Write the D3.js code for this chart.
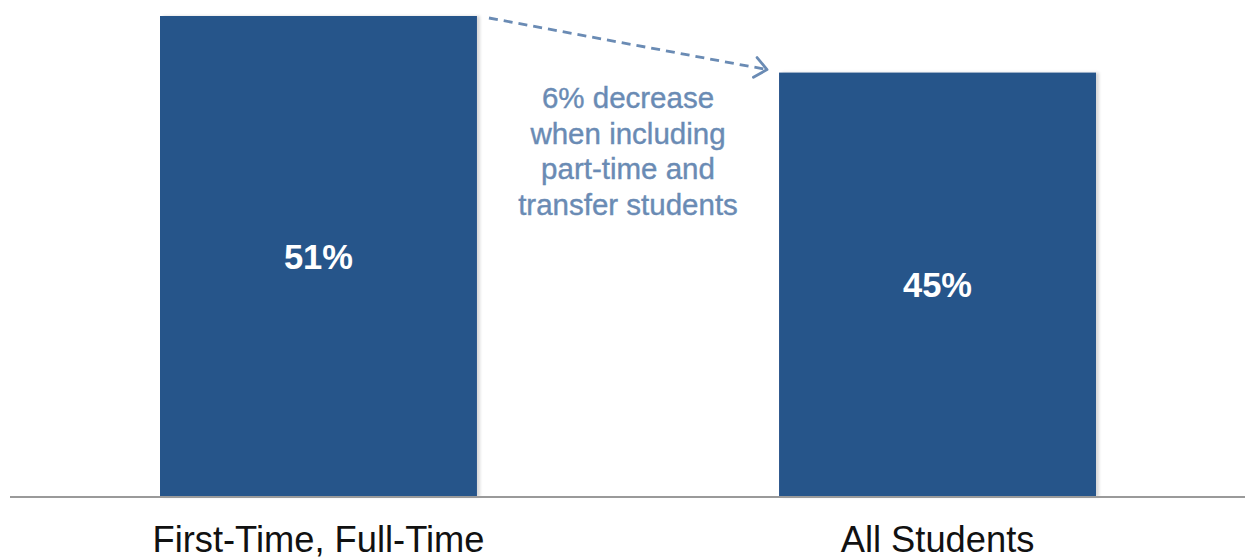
<!DOCTYPE html>
<html>
<head>
<meta charset="utf-8">
<script src="https://cdn.jsdelivr.net/npm/d3@7"></script>
<style>
html,body{margin:0;padding:0;background:#fff;}
svg{display:block;font-family:"Liberation Sans",Arial,sans-serif;}
</style>
</head>
<body>
<svg id="chart" width="1245" height="559"></svg>
<script>
const categories = ["First-Time, Full-Time", "All Students"];
const values = [51, 45];
const valueLabels = ["51%", "45%"];
const annotationLines = ["6% decrease", "when including", "part-time and", "transfer students"];

const svg = d3.select("#chart");
const W = 1245, H = 559;
const baseY = 497, topY = 16;

const x = d3.scaleBand().domain(categories).range([160, 1096]).paddingInner(0.488).paddingOuter(0);
const y = d3.scaleLinear().domain([0, d3.max(values)]).range([baseY, topY]);

const barColor = "#27548a";
const annoColor = "#6a8bb4";

const defs = svg.append("defs");
const f = defs.append("filter").attr("id", "sh").attr("x", "-5%").attr("y", "-5%").attr("width", "115%").attr("height", "110%");
f.append("feDropShadow").attr("dx", 3).attr("dy", 0).attr("stdDeviation", 1.5).attr("flood-color", "#000").attr("flood-opacity", 0.15);

defs.append("marker").attr("id", "arr").attr("viewBox", "0 0 16 24").attr("refX", 14).attr("refY", 12)
  .attr("markerWidth", 16).attr("markerHeight", 24).attr("markerUnits", "userSpaceOnUse").attr("orient", "auto")
  .append("path").attr("d", "M2,2 L14,12 L2,22").attr("fill", "none").attr("stroke", annoColor).attr("stroke-width", 2.8)
  .attr("stroke-linecap", "round").attr("stroke-linejoin", "round");

svg.append("g").selectAll("rect").data(values).join("rect")
  .attr("x", (d, i) => x(categories[i]))
  .attr("y", d => y(d))
  .attr("width", x.bandwidth())
  .attr("height", d => y(0) - y(d))
  .attr("fill", barColor)
  .attr("filter", "url(#sh)");

const axis = d3.axisBottom(x).tickSize(0).tickPadding(29);
const ax = svg.append("g").attr("transform", `translate(0,${baseY})`).call(axis);
ax.select(".domain").attr("d", `M10,0H${W}`).attr("stroke", "#9a9a9a").attr("stroke-width", 2);
ax.selectAll("text").attr("font-size", 36.3).attr("fill", "#111").attr("font-family", "Liberation Sans, Arial, sans-serif").attr("dy", "0.71em");

svg.append("g").selectAll("text").data(values).join("text")
  .attr("x", (d, i) => x(categories[i]) + x.bandwidth() / 2)
  .attr("y", d => (y(d) + y(0)) / 2)
  .attr("dy", "0.36em")
  .attr("text-anchor", "middle")
  .attr("fill", "#fff")
  .attr("font-weight", "bold")
  .attr("font-size", 34.5)
  .text((d, i) => valueLabels[i]);

const x1 = x(categories[0]) + x.bandwidth() + 12, y1 = y(values[0]) + 2;
const x2 = x(categories[1]) - 12, y2 = y(values[1]) - 3;
svg.append("line").attr("x1", x1).attr("y1", y1).attr("x2", x2).attr("y2", y2)
  .attr("stroke", annoColor).attr("stroke-width", 2.8).attr("stroke-dasharray", "9,6")
  .attr("marker-end", "url(#arr)");

const cx = (x(categories[0]) + x.bandwidth() + x(categories[1])) / 2;
svg.append("text").attr("text-anchor", "middle").attr("fill", annoColor).attr("font-size", 29.5)
  .attr("stroke", annoColor).attr("stroke-width", 0.4)
  .selectAll("tspan").data(annotationLines).join("tspan")
  .attr("x", cx).attr("y", (d, i) => 108 + i * 35.7).text(d => d);
</script>
</body>
</html>
